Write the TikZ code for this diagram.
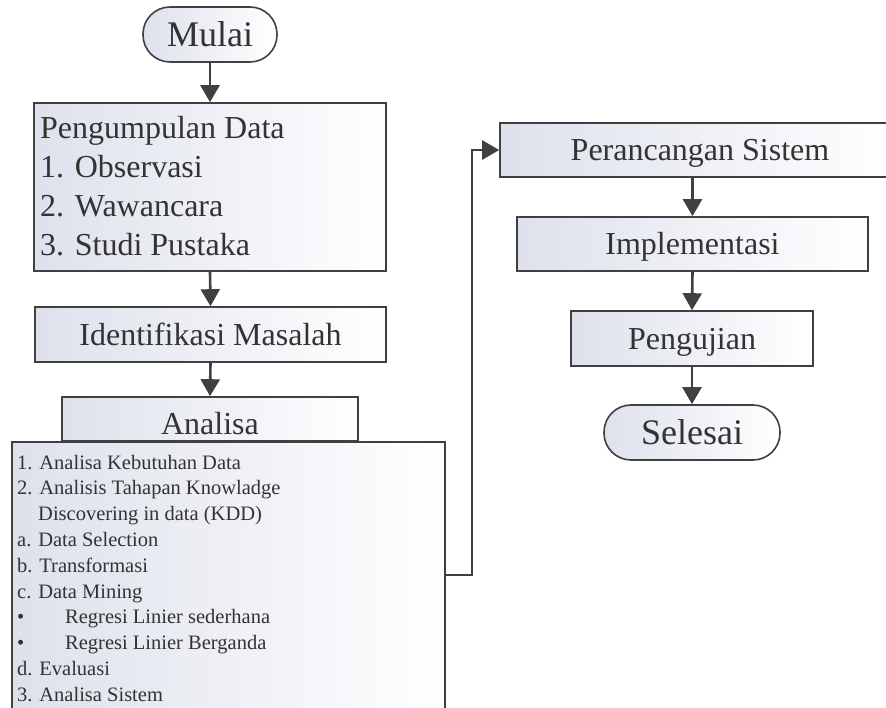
\documentclass[tikz,border=0pt]{standalone}
\usepackage{fontspec}
\setmainfont{Liberation Serif}
\usetikzlibrary{arrows.meta,calc}
\definecolor{linec}{HTML}{404040}
\definecolor{textc}{HTML}{333333}
\definecolor{fillc}{RGB}{222,225,236}
\tikzset{
  every node/.style={text=textc},
  boxst/.style={draw=linec, line width=1.6pt, left color=fillc, right color=white, inner sep=0pt},
  termst/.style={boxst, rounded corners=27pt},
  bigf/.style={font=\fontsize{32}{38}\selectfont, text height=28.8pt, text depth=7.7pt, inner sep=0pt},
  huge/.style={font=\fontsize{36}{42}\selectfont, text height=32.4pt, text depth=8.6pt, inner sep=0pt},
  listf/.style={font=\fontsize{20.5}{25}\selectfont, anchor=base west, inner sep=0pt},
  parf/.style={font=\fontsize{32}{38}\selectfont, anchor=base west, inner sep=0pt},
  arr/.style={draw=linec, line width=2.6pt, -{Triangle[length=17pt,width=19pt]}},
}
\begin{document}
\begin{tikzpicture}[x=1pt,y=-1pt]
\useasboundingbox (0,0) rectangle (886,708);
\clip (0,0) rectangle (886,708);
% left column
\node[termst, huge, minimum width=134pt, minimum height=55pt] (mulai) at (210,34.5) {Mulai};
\node[boxst, minimum width=352pt, minimum height=168pt] (peng) at (210,187) {};
\node[parf] (p1) at (40,139) {Pengumpulan Data};
\node[parf] (p2) at (40,178) {1. Observasi};
\node[parf] (p3) at (40,217) {2. Wawancara};
\node[parf] (p4) at (40,256) {3. Studi Pustaka};
\node[boxst, bigf, minimum width=351pt, minimum height=55pt] (ident) at (210.5,334.5) {Identifikasi Masalah};
\node[boxst, minimum width=296pt, minimum height=44pt] (ana) at (210,419) {};
\node[bigf] (anat) at (210,423.5) {Analisa};
\node[boxst, minimum width=433pt, minimum height=320pt, anchor=north west] (big) at (11,441) {};
\node[listf] (l1) at (17,469) {1. Analisa Kebutuhan Data};
\node[listf] (l2) at (17,494.8) {2. Analisis Tahapan Knowladge};
\node[listf] (l3) at (38,520.6) {Discovering in data (KDD)};
\node[listf] (l4) at (17,546.4) {a. Data Selection};
\node[listf] (l5) at (17,572.2) {b. Transformasi};
\node[listf] (l6) at (17,598) {c. Data Mining};
\node[listf] (l7) at (17,623.8) {\makebox[48pt][l]{•}Regresi Linier sederhana};
\node[listf] (l8) at (17,649.6) {\makebox[48pt][l]{•}Regresi Linier Berganda};
\node[listf] (l9) at (17,675.4) {d. Evaluasi};
\node[listf] (l10) at (17,701.2) {3. Analisa Sistem};
% right column
\node[boxst, bigf, minimum width=400pt, minimum height=54pt] (per) at (700,150) {Perancangan Sistem};
\node[boxst, bigf, minimum width=351pt, minimum height=54pt] (impl) at (692.5,244) {Implementasi};
\node[boxst, bigf, minimum width=242pt, minimum height=55pt] (uji) at (692,338.5) {Pengujian};
\node[termst, huge, minimum width=176pt, minimum height=55pt] (sel) at (692,432.5) {Selesai};
% connectors
\draw[arr] (mulai.south) -- (peng.north);
\draw[arr] (peng.south) -- (ident.north);
\draw[arr] (ident.south) -- (ana.north);
\draw[arr] (impl.north |- per.south) -- (impl.north);
\draw[arr] (impl.south) -- (uji.north);
\draw[arr] (uji.south) -- (sel.north);
\coordinate (lp) at (472,575);
\draw[arr] (big.east |- lp) -- (lp) |- (per.west);
\end{tikzpicture}
\end{document}
